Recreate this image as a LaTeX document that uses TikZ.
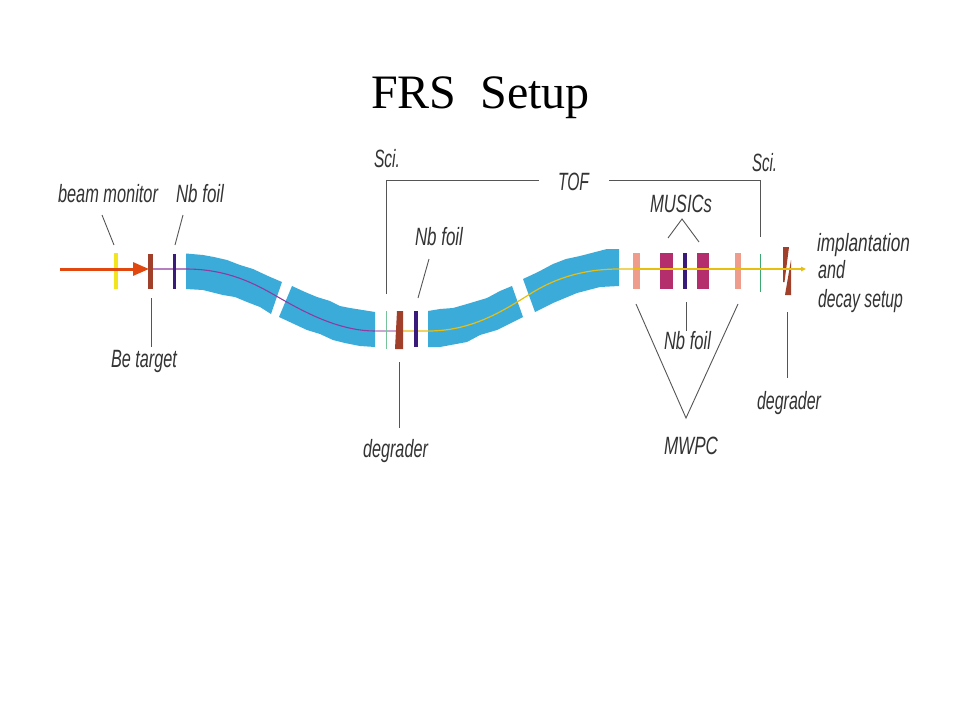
\documentclass[tikz,border=0pt]{standalone}
\usepackage{fontspec}
\usepackage{graphicx}
\usetikzlibrary{arrows.meta}
\setmainfont{Liberation Serif}
\newfontfamily\labfont{Liberation Sans}
\definecolor{magblue}{HTML}{3BACDA}
\definecolor{monyellow}{HTML}{F2E41E}
\definecolor{targetbrown}{HTML}{A0402A}
\definecolor{foilblue}{HTML}{3A1A7A}
\definecolor{beamorange}{HTML}{E0480F}
\definecolor{musicred}{HTML}{B42E6E}
\definecolor{wirepink}{HTML}{F09C8C}
\definecolor{scigreen}{HTML}{3AA870}
\definecolor{beampurple}{HTML}{8E3A9E}
\definecolor{beamyellow}{HTML}{E8BE10}
\definecolor{labgray}{HTML}{333333}
\definecolor{leadgray}{HTML}{555555}
\newcommand{\lbl}[2]{\resizebox{#1pt}{\height}{\labfont\itshape #2}}
\tikzset{
  lab/.style={anchor=base west,inner sep=0pt,outer sep=0pt,text=labgray,font=\fontsize{25}{28}\selectfont},
  leader/.style={draw=leadgray,line width=0.9pt},
  magnet/.style={fill=magblue,draw=none},
  bar/.style={draw=none}
}
\begin{document}
\begin{tikzpicture}[x=1pt,y=-1pt]
\useasboundingbox (0,0) rectangle (960,720);
\fill[white] (0,0) rectangle (960,720);
\node[anchor=base west,inner sep=0pt,font=\fontsize{48}{54}\selectfont,text=black] (title) at (371,108) {FRS\hspace{24pt}Setup};
% magnets
\fill[magnet] (186,253.5) -- (203,255) -- (214,257) -- (227,260) -- (240,265) -- (253,269) -- (268,276) -- (282,282) -- (271,314) -- (260,307) -- (247,302) -- (235,297) -- (223,295) -- (203,290) -- (186,289) -- cycle;
\fill[magnet] (292,286) -- (305,292) -- (317,297) -- (330,301) -- (340,306) -- (350,308) -- (375,312) -- (375,347) -- (360,346) -- (345,343) -- (333,340) -- (320,334) -- (307,330) -- (279,317) -- cycle;
\fill[magnet] (428,311) -- (440,309) -- (453,308) -- (467,304) -- (487,298) -- (500,291) -- (512,286) -- (523,317) -- (497,330) -- (480,335) -- (467,342) -- (440,347) -- (428,347) -- cycle;
\fill[magnet] (523,279) -- (538,272) -- (553,264) -- (566,259) -- (580,256) -- (607,249) -- (619,249) -- (619,286) -- (600,287) -- (577,293) -- (565,298) -- (553,303) -- (535,312) -- cycle;
% beam
\draw[beampurple,line width=1.1pt] (153,269) -- (186,269) .. controls (235,269) and (265,290) .. (285,301) .. controls (315,318) and (345,331) .. (375,331) -- (386,331);
\draw[beampurple!45,line width=1.2pt] (375,331) -- (396,331);
\draw[beamyellow,line width=1.2pt] (396,331) -- (428,331) .. controls (470,331) and (500,313) .. (530,294) .. controls (560,275) and (590,269) .. (619,269) -- (633,269);
% elements
\fill[bar,monyellow] (114,253) rectangle (118,289);
\fill[bar,targetbrown] (148,254) rectangle (153,289);
\fill[bar,foilblue] (173,254) rectangle (176,289);
\fill[bar,scigreen!70] (385.6,311) rectangle (386.6,349);
\fill[bar,targetbrown] (397,311) -- (403,311) -- (403,349) -- (395,349) -- cycle;
\fill[bar,foilblue] (414,311) rectangle (418,347);
\fill[bar,wirepink] (633,253) rectangle (640,289);
\fill[bar,musicred] (660,253) rectangle (673,289);
\fill[bar,foilblue] (683,253) rectangle (687,289);
\fill[bar,musicred] (697,253) rectangle (709,289);
\fill[bar,wirepink] (735,253) rectangle (741,289);
\fill[bar,scigreen] (759.6,254) rectangle (760.6,292);
\fill[bar,targetbrown] (783,247) -- (789,247) -- (784.5,282) -- (783,282) -- cycle;
\fill[bar,targetbrown] (791,260) -- (791,295) -- (785,295) -- cycle;
% beam arrows
\coordinate (beamstart) at (60,269);
\coordinate (targetfront) at (149,269);
\coordinate (exitfront) at (633,269);
\coordinate (exittip) at (806,269);
\draw[beamorange,line width=3pt,-{Triangle[length=16pt,width=13pt]}] (beamstart) -- (targetfront);
\draw[beamyellow,line width=1.3pt,-{Triangle[length=5pt,width=4.5pt]}] (exitfront) -- (exittip);
% labels
\node[lab] (beammon) at (58,202) {\lbl{100}{beam monitor}};
\node[lab] (nbfoila) at (176,202) {\lbl{48}{Nb foil}};
\node[lab] (betarget) at (111,367) {\lbl{66}{Be target}};
\node[lab] (scia) at (374,167) {\lbl{26}{Sci.}};
\node[lab] (tof) at (558,190) {\lbl{31}{TOF}};
\node[lab] (nbfoilb) at (415,245) {\lbl{48}{Nb foil}};
\node[lab] (dega) at (363,457) {\lbl{65}{degrader}};
\node[lab] (scib) at (752,171) {\lbl{25}{Sci.}};
\node[lab] (musics) at (650,212) {\lbl{62}{MUSICs}};
\node[lab] (impl) at (817,251) {\lbl{93}{implantation}};
\node[lab] (andlab) at (818,278) {\lbl{27}{and}};
\node[lab] (decay) at (818,307) {\lbl{85}{decay setup}};
\node[lab] (nbfoilc) at (664,349) {\lbl{47}{Nb foil}};
\node[lab] (degb) at (757,409) {\lbl{64}{degrader}};
\node[lab] (mwpc) at (664,454) {\lbl{54}{MWPC}};
% leaders
\coordinate (a1) at (102,215); \coordinate (a2) at (114,245);
\coordinate (b1) at (183,215); \coordinate (b2) at (175,245);
\coordinate (c1) at (151,298); \coordinate (c2) at (151,347);
\coordinate (d1) at (386,294); \coordinate (d2) at (386,180); \coordinate (d3) at (539,180);
\coordinate (e1) at (609,180); \coordinate (e2) at (760,180); \coordinate (e3) at (760,237);
\coordinate (f1) at (429,259); \coordinate (f2) at (418,298);
\coordinate (g1) at (399,362); \coordinate (g2) at (399,428);
\coordinate (h1) at (668,238); \coordinate (h2) at (682,219); \coordinate (h3) at (699,242);
\coordinate (i1) at (686,302); \coordinate (i2) at (686,331);
\coordinate (j1) at (636,304); \coordinate (j2) at (686,418); \coordinate (j3) at (738,304);
\coordinate (k1) at (787,312); \coordinate (k2) at (787,378);
\draw[leader] (a1) -- (a2);
\draw[leader] (b1) -- (b2);
\draw[leader] (c1) -- (c2);
\draw[leader] (d1) -- (d2) -- (d3);
\draw[leader] (e1) -- (e2) -- (e3);
\draw[leader] (f1) -- (f2);
\draw[leader] (g1) -- (g2);
\draw[leader] (h1) -- (h2) -- (h3);
\draw[leader] (i1) -- (i2);
\draw[leader] (j1) -- (j2) -- (j3);
\draw[leader] (k1) -- (k2);
\end{tikzpicture}
\end{document}
